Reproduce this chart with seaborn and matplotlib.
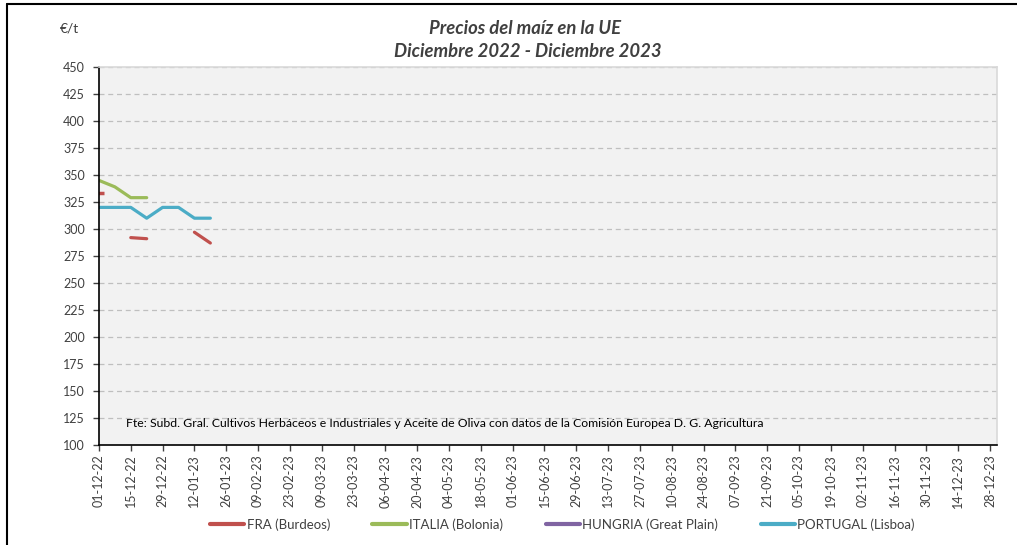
import matplotlib
matplotlib.use("Agg")
import matplotlib.pyplot as plt
import matplotlib.dates as mdates
from matplotlib.lines import Line2D
import seaborn as sns
import numpy as np
import pandas as pd

# weekly quotes, €/t
dates = ["2022-12-01", "2022-12-08", "2022-12-15", "2022-12-22",
         "2022-12-29", "2023-01-05", "2023-01-12", "2023-01-19"]
fra = [333, np.nan, 292, 291, np.nan, np.nan, 297, 287]
italia = [345, 339, 329, 329, np.nan, np.nan, np.nan, np.nan]
hungria = [np.nan] * 8
portugal = [320, 320, 320, 310, 320, 320, 310, 310]

series_names = ["FRA (Burdeos)", "ITALIA (Bolonia)", "HUNGRIA (Great Plain)", "PORTUGAL (Lisboa)"]
series_vals = [fra, italia, hungria, portugal]
colors = ["#C0504D", "#9BBB59", "#8064A2", "#4BACC6"]

sns.set_theme(style="white")
plt.rcParams['font.family'] = ['Lato', 'DejaVu Sans']

fig = plt.figure(figsize=(10.17, 5.45), dpi=100)
ax = fig.add_axes([0.0973, 0.1835, 0.8829, 0.6936])
ax.set_facecolor("#F2F2F2")

x = pd.to_datetime(dates)
handles = []
for name, vals, col in zip(series_names, series_vals, colors):
    y = np.array(vals, dtype=float)
    ok = ~np.isnan(y)
    # break the line at missing weeks
    seg_id = np.cumsum(~ok)
    for s in np.unique(seg_id[ok]):
        idx = ok & (seg_id == s)
        if idx.sum() > 1:
            sns.lineplot(x=x[idx], y=y[idx], color=col, linewidth=2.3, ax=ax,
                         legend=False, solid_capstyle='round')
        else:
            ax.plot(x[idx], y[idx], marker='_', markersize=7, mew=2.5, color=col,
                    linestyle='none', clip_on=True)
    handles.append(Line2D([], [], color=col, linewidth=3, solid_capstyle='round'))

ax.set_xlim(pd.Timestamp("2022-12-01"), pd.Timestamp("2023-12-31"))
ax.set_ylim(100, 450)
ax.set_yticks(np.arange(100, 451, 25))
ticks = pd.date_range("2022-12-01", "2023-12-28", freq="14D")
ax.set_xticks(ticks)
ax.xaxis.set_major_formatter(mdates.DateFormatter("%d-%m-%y"))
ax.tick_params(axis='x', rotation=90, labelsize=9, colors="#404040",
               direction='out', length=4, width=1, bottom=True, pad=3)
ax.tick_params(axis='y', labelsize=9, colors="#404040", direction='out',
               length=4, width=1, left=True, pad=6)
for t in ax.get_xticklines() + ax.get_yticklines():
    t.set_color("black")

ax.grid(axis='y', color="#BFBFBF", linestyle=(0, (4, 3)), linewidth=0.9)
ax.set_axisbelow(True)
for side in ["top", "right"]:
    ax.spines[side].set_color("#D9D9D9")
    ax.spines[side].set_linewidth(1.2)
for side in ["left", "bottom"]:
    ax.spines[side].set_color("black")
    ax.spines[side].set_linewidth(1.2)
ax.set_xlabel("")
ax.set_ylabel("")

ax.text(0.03, 0.057, "Fte: Subd. Gral. Cultivos Herbáceos e Industriales y Aceite de Oliva con datos de la Comisión Europea D. G. Agricultura",
        transform=ax.transAxes, fontsize=8.8, color="black", va='center', ha='left')

fig.text(0.516, 0.948, "Precios del maíz en la UE", ha='center', va='center',
         fontsize=13.3, style='italic', fontweight='bold', color="#404040")
fig.text(0.519, 0.906, "Diciembre 2022 - Diciembre 2023", ha='center', va='center',
         fontsize=13.3, style='italic', fontweight='bold', color="#404040")
fig.text(0.068, 0.948, "€/t", ha='center', va='center', fontsize=10, color="#404040")

fig.legend(handles, series_names, loc='center', bbox_to_anchor=(0.553, 0.038), ncol=4,
           frameon=False, fontsize=9.5, handlelength=2.6, handletextpad=0.2,
           columnspacing=3.2, labelcolor="#404040")

# chart frame (left and top)
fig.add_artist(Line2D([0.007, 0.007], [0, 0.993], color="black", linewidth=1.5, transform=fig.transFigure))
fig.add_artist(Line2D([0.007, 1.0], [0.993, 0.993], color="black", linewidth=1.5, transform=fig.transFigure))

fig.savefig("out.png", dpi=100)
